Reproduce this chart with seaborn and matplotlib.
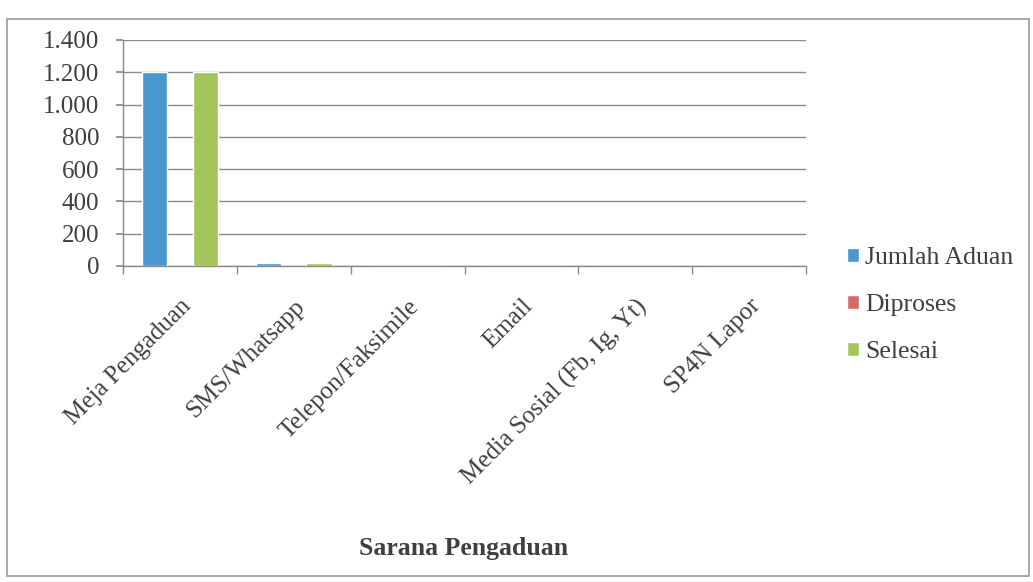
import matplotlib
matplotlib.use("Agg")
import matplotlib.pyplot as plt
import matplotlib.ticker as mticker
from matplotlib.patches import Rectangle
import seaborn as sns
import pandas as pd
import numpy as np

categories = ["Meja Pengaduan", "SMS/Whatsapp", "Telepon/Faksimile", "Email",
              "Media Sosial (Fb, Ig, Yt)", "SP4N Lapor"]
jumlah_aduan = [1200, 20, 0, 0, 0, 0]
diproses = [0, 0, 0, 0, 0, 0]
selesai = [1200, 16, 0, 0, 0, 0]
series_names = ["Jumlah Aduan", "Diproses", "Selesai"]
y_ticks = [0, 200, 400, 600, 800, 1000, 1200, 1400]
x_label = "Sarana Pengaduan"

df = pd.DataFrame({
    "Sarana": categories * 3,
    "Series": [series_names[0]] * 6 + [series_names[1]] * 6 + [series_names[2]] * 6,
    "Nilai": jumlah_aduan + diproses + selesai,
})

sns.set_theme(style="white")
plt.rcParams['font.family'] = ['Liberation Serif', 'DejaVu Serif']
text_color = "#3f3f3f"

fig = plt.figure(figsize=(10.33, 5.82), dpi=100)
ax = fig.add_axes([123 / 1033, 1 - 266 / 582, (806 - 123) / 1033, (266 - 40) / 582])

palette = ["#4a96cf", "#d46a6a", "#a3c65c"]
sns.barplot(data=df, x="Sarana", y="Nilai", hue="Series", palette=palette,
            width=0.67, ax=ax, saturation=1, legend=True)

ax.set_ylim(0, 1400)
ax.set_xlim(-0.5, 5.5)
ax.set_yticks(y_ticks)
ax.yaxis.set_major_formatter(mticker.FuncFormatter(lambda v, p: f"{int(v):,}".replace(",", ".")))
ax.grid(axis="y", color="#8a8a8a", linewidth=1.0)
ax.set_axisbelow(True)

for s in ["top", "right"]:
    ax.spines[s].set_visible(False)
for s in ["left", "bottom"]:
    ax.spines[s].set_color("#8a8a8a")
    ax.spines[s].set_linewidth(1.0)

ax.tick_params(axis="y", which="major", left=True, length=5, color="#8a8a8a",
               labelsize=18, labelcolor=text_color, pad=12)
ax.tick_params(axis="x", which="major", bottom=False, length=0,
               labelsize=18, labelcolor=text_color, pad=21)
ax.set_xticks(np.arange(-0.5, 6.0, 1.0), minor=True)
ax.tick_params(axis="x", which="minor", bottom=True, length=6, color="#8a8a8a")

ax.set_xticks(range(len(categories)))
ax.set_xticklabels(categories, rotation=45, ha="right", rotation_mode="anchor")

ax.set_ylabel("")
ax.set_xlabel(x_label, fontsize=18.5, fontweight="bold", color=text_color, labelpad=0)
ax.xaxis.set_label_coords((464 - 123) / (806 - 123), -(537 - 266) / (266 - 40))

handles, labels = ax.get_legend_handles_labels()
leg = ax.legend(handles, labels, loc="center left",
                frameon=False, fontsize=18.5, handlelength=0.45, handleheight=0.45,
                handletextpad=0.25, labelspacing=0.98, labelcolor=text_color)
leg.set_bbox_to_anchor((824 / 1033, 1 - 305 / 582), transform=fig.transFigure)

fig.patches.append(Rectangle((7 / 1033, 1 - 576 / 582), 1022 / 1033, 557 / 582,
                             transform=fig.transFigure, fill=False,
                             edgecolor="#9a9a9a", linewidth=1.2))

fig.savefig("out.png", dpi=100)
